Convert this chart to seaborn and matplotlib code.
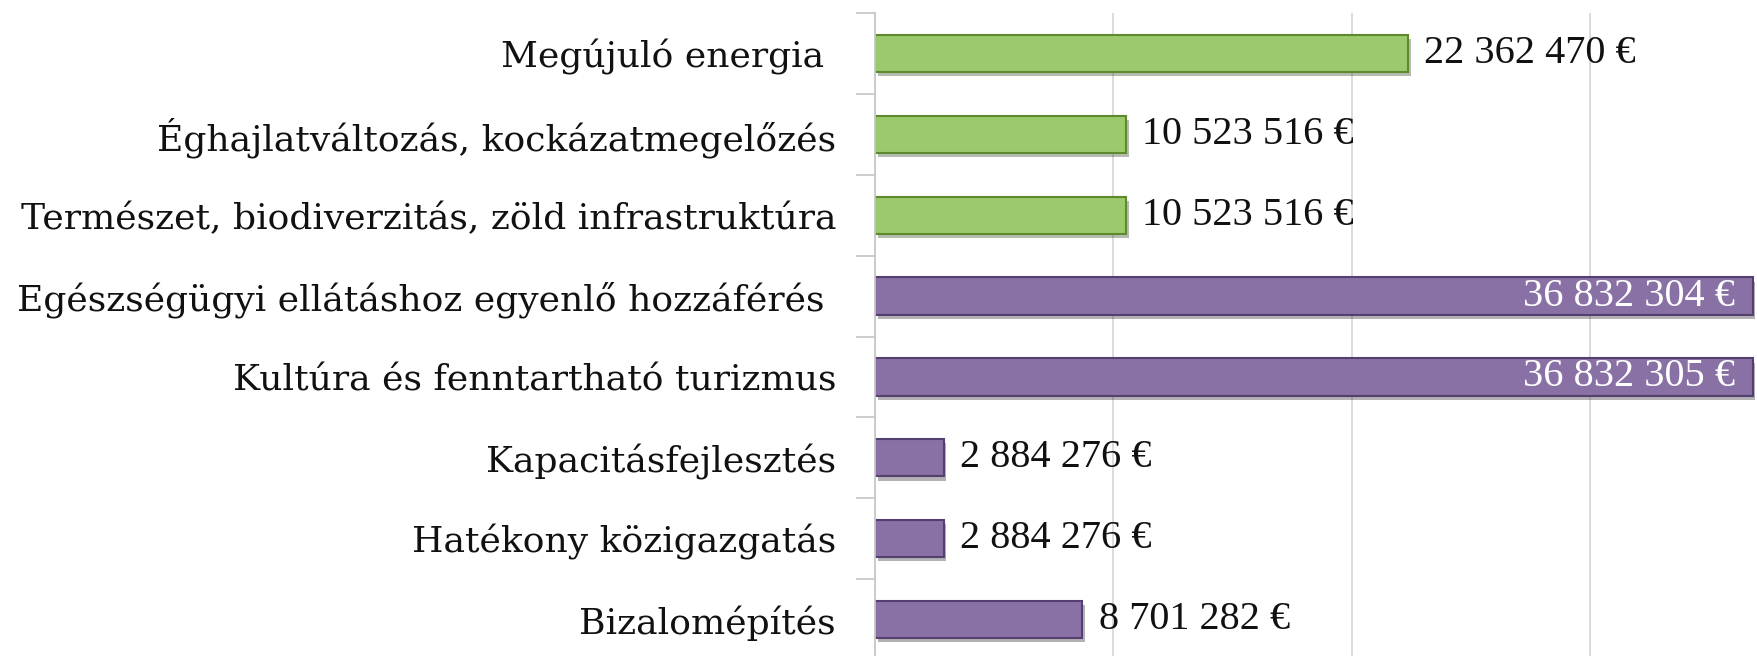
import matplotlib
matplotlib.use('Agg')
import matplotlib.pyplot as plt
import matplotlib.patheffects as pe
import seaborn as sns
import pandas as pd
from matplotlib.ticker import FixedLocator

# Adatok
categories = [
    'Megújuló energia ',
    'Éghajlatváltozás, kockázatmegelőzés',
    'Természet, biodiverzitás, zöld infrastruktúra',
    'Egészségügyi ellátáshoz egyenlő hozzáférés ',
    'Kultúra és fenntartható turizmus',
    'Kapacitásfejlesztés',
    'Hatékony közigazgatás',
    'Bizalomépítés',
]
values = [22362470, 10523516, 10523516, 36832304, 36832305, 2884276, 2884276, 8701282]
value_labels = ['22 362 470 €', '10 523 516 €', '10 523 516 €', '36 832 304 €',
                '36 832 305 €', '2 884 276 €', '2 884 276 €', '8 701 282 €']
groups = ['green', 'green', 'green', 'purple', 'purple', 'purple', 'purple', 'purple']

face = {'green': '#9CD95B', 'purple': '#8868AF'}
edge = {'green': '#5E8A2E', 'purple': '#54406F'}

df = pd.DataFrame({'category': categories, 'value': values, 'group': groups})

sns.set_style('white')
plt.rcParams['font.family'] = ['Liberation Serif', 'DejaVu Serif']

fig = plt.figure(figsize=(17.58, 6.56), dpi=100)
ax = fig.add_axes([875 / 1758, -4 / 656, 883 / 1758, 647 / 656])

sns.barplot(data=df, x='value', y='category', hue='category',
            palette=[face[g] for g in groups], legend=False,
            width=0.46, orient='h', ax=ax, linewidth=1.5)

for patch, g in zip(ax.patches, groups):
    patch.set_edgecolor(edge[g])
    patch.set_path_effects([pe.SimplePatchShadow(offset=(2, -3), alpha=0.35), pe.Normal()])

ax.set_xlim(0, 37.06e6)
ax.set_ylim(7.5, -0.5)
ax.set_xlabel('')
ax.set_ylabel('')
ax.set_xticks([0, 10e6, 20e6, 30e6])
ax.set_xticklabels([])
ax.tick_params(axis='x', length=0)
ax.grid(axis='x', color='#d9d9d9', linewidth=1.3)
ax.set_axisbelow(True)

for side in ['top', 'right', 'bottom']:
    ax.spines[side].set_visible(False)
ax.spines['left'].set_color('#c8c8c8')
ax.spines['left'].set_linewidth(1.3)

ax.yaxis.set_minor_locator(FixedLocator([i - 0.5 for i in range(len(categories) + 1)]))
ax.tick_params(axis='y', which='major', length=0, pad=28, labelcolor='#111111')
ax.tick_params(axis='y', which='minor', length=14, width=1.3, color='#c8c8c8', left=True)
for lbl in ax.get_yticklabels():
    lbl.set_family(['DejaVu Serif'])
    lbl.set_fontsize(26)

# Értékcímkék
for i, (v, lab) in enumerate(zip(values, value_labels)):
    if v > 30e6:
        ax.text(v - 0.75e6, i, lab, ha='right', va='center', fontsize=29, color='white')
    else:
        ax.text(v + 0.7e6, i, lab, ha='left', va='center', fontsize=29, color='#111111')

fig.savefig('out.png', dpi=100)
